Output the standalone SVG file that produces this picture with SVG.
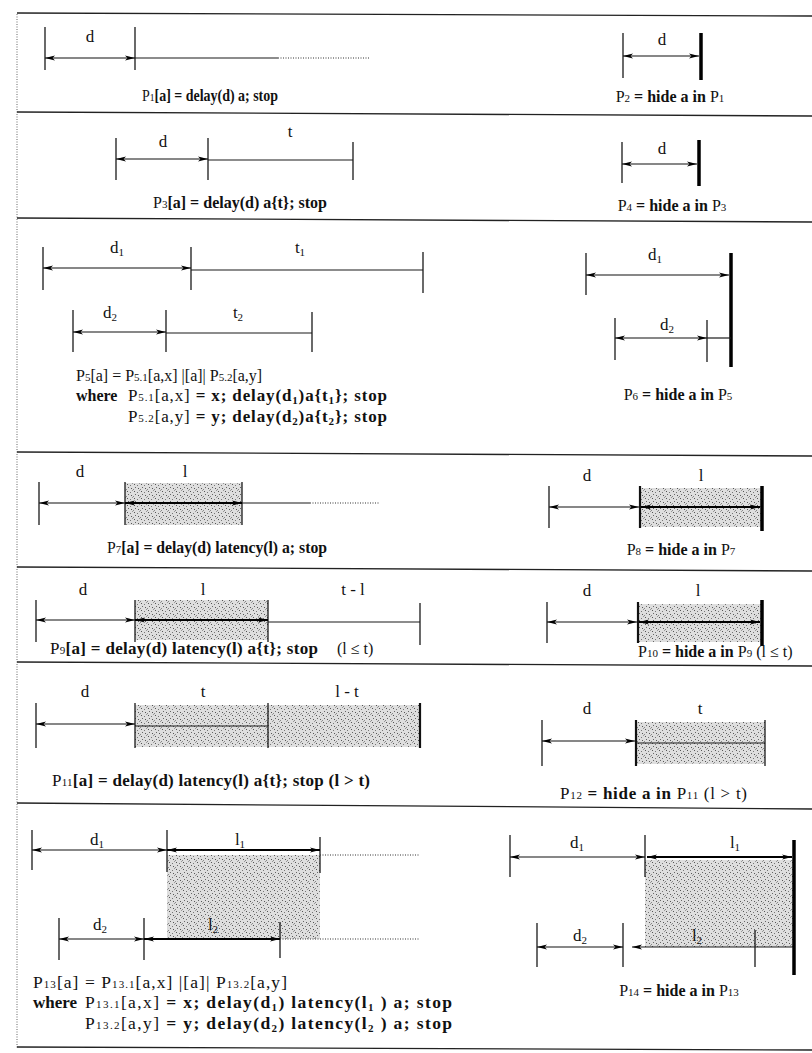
<svg xmlns="http://www.w3.org/2000/svg" width="812" height="1053" viewBox="0 0 812 1053">
<style>
.ln{stroke:#1a1a1a;stroke-width:1.2;fill:none}
.tk{stroke:#1a1a1a;stroke-width:1.3}
.tk2{stroke:#111;stroke-width:2.2}
.bar{stroke:#000;stroke-width:3.5}
.ar{stroke:#111;stroke-width:1.2;marker-start:url(#ah);marker-end:url(#ah)}
.arb{stroke:#000;stroke-width:2.2;marker-start:url(#ah);marker-end:url(#ah)}
.dot{stroke:#333;stroke-width:1.1;stroke-dasharray:1 1.5}
.sep{stroke:#222;stroke-width:1.3}
.box{fill:url(#stip);stroke:none}
text{font-family:"Liberation Serif","Times New Roman",serif;fill:#111}
.lab{font-size:17px;text-anchor:middle}
.eq{font-size:16px;font-weight:bold}
.big{font-size:17px}
.c{text-anchor:middle}
.n{font-weight:normal}
.pn{font-size:11px;font-weight:normal}
.sb{font-size:11px}
</style>
<defs>
<marker id="ah" viewBox="0 0 10 6" refX="10" refY="3" markerWidth="10" markerHeight="6" markerUnits="userSpaceOnUse" orient="auto-start-reverse">
<path d="M0,0.4 L10,3 L0,5.6 L2.5,3 Z" fill="#000"/>
</marker>
<pattern id="stip" width="7" height="7" patternUnits="userSpaceOnUse">
<rect width="7" height="7" fill="#dedede"/>
<rect x="1" y="1" width="1" height="1" fill="#555"/>
<rect x="4" y="2" width="1" height="1" fill="#777"/>
<rect x="2" y="4" width="1" height="1" fill="#666"/>
<rect x="5" y="5" width="1" height="1" fill="#555"/>
<rect x="6" y="0" width="1" height="1" fill="#999"/>
<rect x="0" y="6" width="1" height="1" fill="#888"/>
</pattern>
</defs>
<rect width="812" height="1053" fill="#fff"/>

<g id="frame">
<line x1="17" y1="14" x2="17" y2="1048" stroke="#666" stroke-width="1" stroke-dasharray="1 1.5"/>
<line class="sep" x1="17" y1="13" x2="812" y2="16"/>
<line class="sep" x1="17" y1="112" x2="812" y2="116"/>
<line class="sep" x1="17" y1="218" x2="812" y2="222"/>
<line class="sep" x1="17" y1="452" x2="812" y2="456"/>
<line class="sep" x1="17" y1="567" x2="812" y2="571"/>
<line class="sep" x1="17" y1="662" x2="812" y2="666"/>
<line class="sep" x1="17" y1="803" x2="812" y2="809"/>
<line class="sep" x1="17" y1="1047" x2="812" y2="1050"/>
</g>

<g id="P1">
<line class="tk" x1="45" y1="27" x2="45" y2="70"/>
<line class="tk" x1="135" y1="27" x2="135" y2="70"/>
<line class="ar" x1="45" y1="58" x2="135" y2="58"/>
<line class="ln" x1="135" y1="58" x2="278" y2="58"/>
<line class="dot" x1="278" y1="58" x2="370" y2="58"/>
<text class="lab" x="90" y="42">d</text>
<text class="eq" x="142" y="101" textLength="136" lengthAdjust="spacingAndGlyphs"><tspan class="n">P</tspan><tspan class="pn">1</tspan>[a] = delay(d) a; stop</text>
</g>

<g id="P2">
<line class="tk" x1="623" y1="33" x2="623" y2="78"/>
<line class="bar" x1="701" y1="33" x2="701" y2="80"/>
<line class="ar" x1="623" y1="56" x2="699" y2="56"/>
<text class="lab" x="662" y="45">d</text>
<text class="eq c" x="670" y="102"><tspan class="n">P</tspan><tspan class="pn">2</tspan> = hide a in <tspan class="n">P</tspan><tspan class="pn">1</tspan></text>
</g>

<g id="P3">
<line class="tk" x1="116" y1="138" x2="116" y2="180"/>
<line class="tk" x1="208" y1="138" x2="208" y2="180"/>
<line class="tk" x1="353" y1="142" x2="353" y2="180"/>
<line class="ar" x1="116" y1="159" x2="208" y2="159"/>
<line class="ln" x1="208" y1="160" x2="353" y2="160"/>
<text class="lab" x="163" y="147">d</text>
<text class="lab" x="290" y="137">t</text>
<text class="eq c" x="240" y="208"><tspan class="n">P</tspan><tspan class="pn">3</tspan>[a] = delay(d) a{t}; stop</text>
</g>

<g id="P4">
<line class="tk" x1="622" y1="142" x2="622" y2="183"/>
<line class="bar" x1="699" y1="140" x2="699" y2="186"/>
<line class="ar" x1="622" y1="164" x2="697" y2="164"/>
<text class="lab" x="662" y="154">d</text>
<text class="eq c" x="672" y="211"><tspan class="n">P</tspan><tspan class="pn">4</tspan> = hide a in <tspan class="n">P</tspan><tspan class="pn">3</tspan></text>
</g>

<g id="P5">
<line class="tk" x1="43" y1="247" x2="43" y2="290"/>
<line class="tk" x1="191" y1="247" x2="191" y2="290"/>
<line class="tk" x1="423" y1="252" x2="423" y2="293"/>
<line class="ar" x1="43" y1="268" x2="191" y2="268"/>
<line class="ln" x1="191" y1="270" x2="423" y2="270"/>
<text class="lab" x="117" y="253">d<tspan class="sb" dy="3">1</tspan></text>
<text class="lab" x="300" y="253">t<tspan class="sb" dy="3">1</tspan></text>
<line class="tk" x1="73" y1="310" x2="73" y2="352"/>
<line class="tk" x1="166" y1="310" x2="166" y2="352"/>
<line class="tk" x1="312" y1="312" x2="312" y2="352"/>
<line class="ar" x1="73" y1="332" x2="166" y2="332"/>
<line class="ln" x1="166" y1="333" x2="312" y2="333"/>
<text class="lab" x="110" y="318">d<tspan class="sb" dy="3">2</tspan></text>
<text class="lab" x="238" y="318">t<tspan class="sb" dy="3">2</tspan></text>
<text class="eq n" x="76" y="381">P<tspan class="pn">5</tspan>[a] = P<tspan class="pn">5.1</tspan>[a,x] |[a]| P<tspan class="pn">5.2</tspan>[a,y]</text>
<text class="eq" x="76" y="401">where</text>
<text class="eq big" x="128" y="401" textLength="259"><tspan class="n">P</tspan><tspan class="pn">5.1</tspan><tspan class="n">[a,x]</tspan> = x; delay(d<tspan class="sb" dy="3">1</tspan><tspan dy="-3">)a{t</tspan><tspan class="sb" dy="3">1</tspan><tspan dy="-3">}; stop</tspan></text>
<text class="eq big" x="128" y="422" textLength="259"><tspan class="n">P</tspan><tspan class="pn">5.2</tspan><tspan class="n">[a,y]</tspan> = y; delay(d<tspan class="sb" dy="3">2</tspan><tspan dy="-3">)a{t</tspan><tspan class="sb" dy="3">2</tspan><tspan dy="-3">}; stop</tspan></text>
</g>

<g id="P6">
<line class="tk" x1="586" y1="253" x2="586" y2="295"/>
<line class="bar" x1="731" y1="253" x2="731" y2="367"/>
<line class="ar" x1="586" y1="275" x2="729" y2="275"/>
<text class="lab" x="655" y="260">d<tspan class="sb" dy="3">1</tspan></text>
<line class="tk" x1="615" y1="318" x2="615" y2="360"/>
<line class="tk" x1="707" y1="320" x2="707" y2="362"/>
<line class="ar" x1="615" y1="338" x2="707" y2="338"/>
<line class="ln" x1="707" y1="338" x2="731" y2="338"/>
<text class="lab" x="667" y="330">d<tspan class="sb" dy="3">2</tspan></text>
<text class="eq c" x="678" y="400"><tspan class="n">P</tspan><tspan class="pn">6</tspan> = hide a in <tspan class="n">P</tspan><tspan class="pn">5</tspan></text>
</g>

<g id="P7">
<rect class="box" x="125" y="483" width="117" height="42"/>
<line class="tk" x1="39" y1="482" x2="39" y2="525"/>
<line class="tk" x1="125" y1="482" x2="125" y2="525"/>
<line class="tk" x1="242" y1="482" x2="242" y2="525"/>
<line class="ar" x1="39" y1="503" x2="125" y2="503"/>
<line class="arb" x1="125" y1="503" x2="242" y2="503"/>
<line class="ln" x1="242" y1="503" x2="310" y2="503"/>
<line class="dot" x1="310" y1="503" x2="380" y2="503"/>
<text class="lab" x="80" y="477">d</text>
<text class="lab" x="185" y="477">l</text>
<text class="eq" x="107" y="553" textLength="220" lengthAdjust="spacingAndGlyphs"><tspan class="n">P</tspan><tspan class="pn">7</tspan>[a] = delay(d) latency(l) a; stop</text>
</g>

<g id="P8">
<rect class="box" x="640" y="488" width="122" height="39"/>
<line class="tk" x1="549" y1="486" x2="549" y2="528"/>
<line class="tk2" x1="640" y1="486" x2="640" y2="528"/>
<line class="bar" x1="762" y1="486" x2="762" y2="531"/>
<line class="ar" x1="549" y1="507" x2="639" y2="507"/>
<line class="arb" x1="641" y1="507" x2="760" y2="507"/>
<text class="lab" x="587" y="481">d</text>
<text class="lab" x="701" y="481">l</text>
<text class="eq c" x="681" y="555"><tspan class="n">P</tspan><tspan class="pn">8</tspan> = hide a in <tspan class="n">P</tspan><tspan class="pn">7</tspan></text>
</g>

<g id="P9">
<rect class="box" x="135" y="600" width="133" height="40"/>
<line class="tk" x1="36" y1="600" x2="36" y2="642"/>
<line class="tk" x1="135" y1="600" x2="135" y2="642"/>
<line class="tk" x1="268" y1="600" x2="268" y2="642"/>
<line class="tk" x1="420" y1="603" x2="420" y2="645"/>
<line class="ar" x1="36" y1="620" x2="135" y2="620"/>
<line class="arb" x1="135" y1="620" x2="268" y2="620"/>
<line class="ln" x1="268" y1="622" x2="420" y2="622"/>
<text class="lab" x="83" y="595">d</text>
<text class="lab" x="203" y="595">l</text>
<text class="lab" x="353" y="595">t - l</text>
<text class="eq big" x="50" y="654" textLength="268"><tspan class="n">P</tspan><tspan class="pn">9</tspan>[a] = delay(d) latency(l) a{t}; stop</text>
<text class="eq n" x="337" y="654">(l ≤ t)</text>
</g>

<g id="P10">
<rect class="box" x="638" y="604" width="124" height="38"/>
<line class="tk" x1="547" y1="602" x2="547" y2="643"/>
<line class="tk2" x1="638" y1="602" x2="638" y2="643"/>
<line class="bar" x1="762" y1="600" x2="762" y2="646"/>
<line class="ar" x1="547" y1="622" x2="637" y2="622"/>
<line class="arb" x1="639" y1="622" x2="760" y2="622"/>
<text class="lab" x="587" y="596">d</text>
<text class="lab" x="698" y="596">l</text>
<text class="eq" x="638" y="657"><tspan class="n">P</tspan><tspan class="pn">10</tspan> = hide a in <tspan class="n">P</tspan><tspan class="pn">9</tspan><tspan class="n"> (l ≤ t)</tspan></text>
</g>

<g id="P11">
<rect class="box" x="135" y="705" width="285" height="42"/>
<line class="tk" x1="36" y1="703" x2="36" y2="748"/>
<line class="tk" x1="135" y1="703" x2="135" y2="748"/>
<line class="tk" x1="268" y1="703" x2="268" y2="748"/>
<line class="tk2" x1="420" y1="703" x2="420" y2="748"/>
<line class="ar" x1="36" y1="724" x2="135" y2="724"/>
<line class="ln" x1="135" y1="726" x2="268" y2="726" stroke-width="1.6"/>
<text class="lab" x="85" y="697">d</text>
<text class="lab" x="203" y="697">t</text>
<text class="lab" x="347" y="697">l - t</text>
<text class="eq big" x="52" y="786" textLength="318"><tspan class="n">P</tspan><tspan class="pn">11</tspan>[a] = delay(d) latency(l) a{t}; stop (l &gt; t)</text>
</g>

<g id="P12">
<rect class="box" x="636" y="722" width="129" height="42"/>
<line class="tk" x1="542" y1="720" x2="542" y2="766"/>
<line class="tk2" x1="636" y1="720" x2="636" y2="766"/>
<line class="tk" x1="765" y1="720" x2="765" y2="766"/>
<line class="ar" x1="542" y1="741" x2="635" y2="741"/>
<line class="ln" x1="636" y1="743" x2="765" y2="743" stroke-width="1.6"/>
<text class="lab" x="587" y="714">d</text>
<text class="lab" x="700" y="714">t</text>
<text class="eq big" x="560" y="799" textLength="187"><tspan class="n">P</tspan><tspan class="pn">12</tspan> = hide a in <tspan class="n">P</tspan><tspan class="pn">11</tspan><tspan class="n"> (l &gt; t)</tspan></text>
</g>

<g id="P13">
<rect class="box" x="167" y="855" width="153" height="84"/>
<line class="tk" x1="32" y1="830" x2="32" y2="870"/>
<line class="tk" x1="167" y1="830" x2="167" y2="872"/>
<line class="tk" x1="320" y1="837" x2="320" y2="873"/>
<line class="ar" x1="32" y1="850" x2="167" y2="850"/>
<line class="arb" x1="167" y1="850" x2="320" y2="850"/>
<line class="dot" x1="320" y1="855" x2="420" y2="855"/>
<text class="lab" x="97" y="845">d<tspan class="sb" dy="3">1</tspan></text>
<text class="lab" x="240" y="845">l<tspan class="sb" dy="3">1</tspan></text>
<line class="tk" x1="59" y1="918" x2="59" y2="960"/>
<line class="tk" x1="144" y1="918" x2="144" y2="960"/>
<line class="tk" x1="280" y1="922" x2="280" y2="958"/>
<line class="ar" x1="59" y1="939" x2="144" y2="939"/>
<line class="arb" x1="144" y1="939" x2="280" y2="939"/>
<line class="dot" x1="280" y1="939" x2="420" y2="939"/>
<text class="lab" x="100" y="930">d<tspan class="sb" dy="3">2</tspan></text>
<text class="lab" x="213" y="930">l<tspan class="sb" dy="3">2</tspan></text>
<text class="eq n" x="33" y="988" style="font-size:17.5px" textLength="254">P<tspan class="pn">13</tspan>[a] = P<tspan class="pn">13.1</tspan>[a,x] |[a]| P<tspan class="pn">13.2</tspan>[a,y]</text>
<text class="eq big" x="33" y="1008">where</text>
<text class="eq" x="85" y="1008" style="font-size:17.5px" textLength="367"><tspan class="n">P</tspan><tspan class="pn">13.1</tspan><tspan class="n">[a,x]</tspan> = x; delay(d<tspan class="sb" dy="3">1</tspan><tspan dy="-3">) latency(l</tspan><tspan class="sb" dy="3">1</tspan><tspan dy="-3"> ) a; stop</tspan></text>
<text class="eq" x="85" y="1029" style="font-size:17.5px" textLength="367"><tspan class="n">P</tspan><tspan class="pn">13.2</tspan><tspan class="n">[a,y]</tspan> = y; delay(d<tspan class="sb" dy="3">2</tspan><tspan dy="-3">) latency(l</tspan><tspan class="sb" dy="3">2</tspan><tspan dy="-3"> ) a; stop</tspan></text>
</g>

<g id="P14">
<rect class="box" x="645" y="860" width="148" height="87"/>
<line class="tk" x1="510" y1="835" x2="510" y2="877"/>
<line class="tk" x1="645" y1="835" x2="645" y2="877"/>
<line class="bar" x1="794" y1="840" x2="794" y2="975"/>
<line class="ar" x1="510" y1="857" x2="645" y2="857"/>
<line class="arb" x1="647" y1="857" x2="792" y2="857"/>
<text class="lab" x="577" y="848">d<tspan class="sb" dy="3">1</tspan></text>
<text class="lab" x="735" y="848">l<tspan class="sb" dy="3">1</tspan></text>
<line class="tk" x1="537" y1="923" x2="537" y2="967"/>
<line class="tk" x1="623" y1="923" x2="623" y2="967"/>
<line class="ar" x1="537" y1="947" x2="623" y2="947"/>
<line class="ln" x1="632" y1="947" x2="793" y2="947" marker-start="url(#ah)"/>
<line class="tk" x1="755" y1="930" x2="755" y2="967"/>
<text class="lab" x="580" y="941">d<tspan class="sb" dy="3">2</tspan></text>
<text class="lab" x="697" y="941">l<tspan class="sb" dy="3">2</tspan></text>
<text class="eq c" x="679" y="996"><tspan class="n">P</tspan><tspan class="pn">14</tspan> = hide a in <tspan class="n">P</tspan><tspan class="pn">13</tspan></text>
</g>
</svg>
